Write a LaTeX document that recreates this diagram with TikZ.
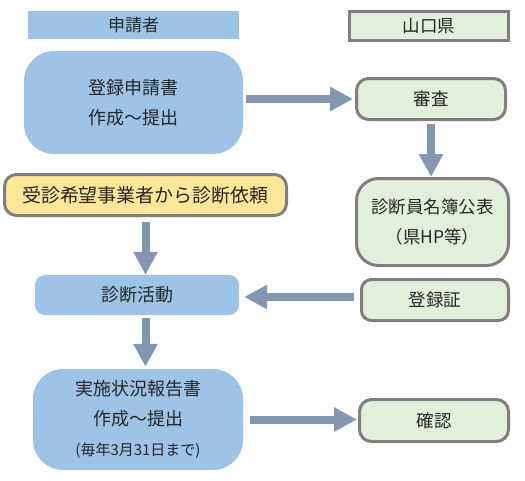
\documentclass[tikz,border=0pt]{standalone}
\usepackage{fontspec}
\setmainfont{Noto Sans CJK JP}
\usetikzlibrary{arrows.meta}
\definecolor{boxblue}{HTML}{9DC3E6}
\definecolor{boxgreen}{HTML}{E2EFDA}
\definecolor{boxyellow}{HTML}{FFE699}
\definecolor{boxgray}{HTML}{7F7F7F}
\definecolor{arrowgray}{HTML}{8497B0}
\definecolor{textgray}{HTML}{262626}

\begin{document}
\begin{tikzpicture}[x=1pt,y=-1pt]
      \useasboundingbox (0,0) rectangle (525,480);

      % applicant side
      \begin{scope}[every node/.style={fill=boxblue, text=textgray, align=center, inner sep=0pt,
          font=\fontsize{18}{30}\selectfont}]
        \node[minimum width=211pt, minimum height=28pt, font=\fontsize{17}{30}\selectfont] (applicant) at (133.5,25) {申請者};
        \node[minimum width=219pt, minimum height=103pt, rounded corners=30pt] (reg) at (133.5,102.5) {登録申請書\\作成～提出};
        \node[minimum width=204pt, minimum height=40pt, rounded corners=10pt] (act) at (137,295) {診断活動};
        \node[minimum width=210pt, minimum height=101pt, rounded corners=30pt] (rep) at (138,419.5)
          {実施状況報告書\\作成～提出\\{\fontsize{15}{29}\selectfont (毎年3月31日まで)}};
      \end{scope}

      % prefecture side
      \begin{scope}[every node/.style={fill=boxgreen, draw=boxgray, line width=3pt, text=textgray,
          align=center, inner sep=0pt, font=\fontsize{17.5}{30}\selectfont}]
        \node[minimum width=159pt, minimum height=29pt] (pref) at (429,26) {山口県};
        \node[minimum width=149pt, minimum height=41pt, rounded corners=12pt] (review) at (431,99) {審査};
        \node[minimum width=152pt, minimum height=87pt, rounded corners=22pt] (roster) at (432.5,222) {診断員名簿公表\\（県HP等）};
        \node[minimum width=147pt, minimum height=41pt, rounded corners=10pt] (cert) at (435,300) {登録証};
        \node[minimum width=149pt, minimum height=42pt, rounded corners=12pt] (check) at (434,420.5) {確認};
        \node[fill=boxyellow, minimum width=282pt, minimum height=41pt, rounded corners=12pt,
          font=\fontsize{19}{30}\selectfont] (req) at (145.5,195) {受診希望事業者から診断依頼};
      \end{scope}

      \begin{scope}[every edge/.style={draw=arrowgray, line width=8pt, -{Triangle[width=23pt,length=23pt]}}]
        \path (reg.east |- review.west) edge[shorten <=3pt, shorten >=2pt] (review.west);
        \path (review.south) edge[shorten <=3pt] (review.south |- roster.north);
        \path (req.south) edge[shorten <=5pt] (req.south |- act.north);
        \path ([yshift=3pt]cert.west) edge[shorten <=6pt, shorten >=5pt] ([yshift=3pt]cert.west -| act.east);
        \path (act.south -| req.south) edge[shorten <=3pt, shorten >=2pt] (rep.north -| req.south);
        \path (rep.east) edge[shorten <=7pt, shorten >=1pt] (rep.east -| check.west);
      \end{scope}

    \end{tikzpicture}
\end{document}
